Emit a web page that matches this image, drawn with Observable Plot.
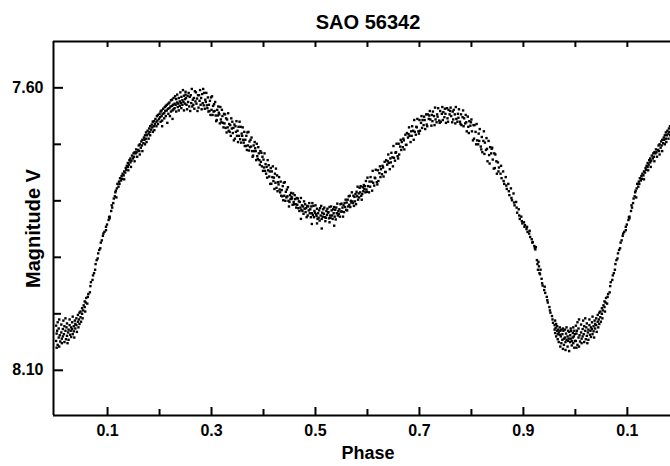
<!DOCTYPE html>
<html>
<head>
<meta charset="utf-8">
<script src="https://cdn.jsdelivr.net/npm/d3@7"></script>
<script src="https://cdn.jsdelivr.net/npm/@observablehq/plot@0.6"></script>
<style>
  html, body { margin: 0; padding: 0; background: #fff; }
  svg { display: block; }
</style>
</head>
<body>
<div id="chart"></div>
<script>
// ---- labels & axes ----
const title = "SAO 56342";
const xLabel = "Phase";
const yLabel = "Magnitude V";
const xDomain = [-0.004, 1.183];
const yDomain = [7.518, 8.180];
const xMajorTicks = [0.1, 0.3, 0.5, 0.7, 0.9, 1.1];
const xMinorTicks = [0.2, 0.4, 0.6, 0.8, 1.0];
const yMajorTicks = [7.6, 8.1];
const yMinorTicks = [7.7, 7.8, 7.9, 8.0];

const obsPrimaryMinStart = [
[0.001,8.021],[0.001,8.048],[0.002,8.060],[0.002,8.035],
[0.003,8.030],[0.004,8.055],[0.004,8.015],
[0.006,8.042],[0.006,8.026],[0.007,8.058],[0.007,8.010],
[0.008,8.038],[0.009,8.049],
[0.011,8.019],[0.011,8.033],[0.012,8.052],[0.012,8.044],
[0.014,8.027],[0.014,8.040],[0.015,8.012],
[0.016,8.036],[0.017,8.050],[0.017,8.022],
[0.019,8.030],[0.019,8.008],[0.020,8.045],
[0.021,8.024],[0.022,8.039],[0.022,8.017],[0.023,8.052],
[0.024,8.033],[0.025,8.028],[0.025,8.046],
[0.027,8.020],[0.027,8.010],[0.028,8.037],
[0.029,8.030],[0.030,8.041],[0.030,8.024],
[0.032,8.015],[0.032,8.027],[0.033,8.036],[0.033,8.005],
[0.035,8.022],[0.035,8.031],[0.036,8.042],
[0.037,8.012],[0.038,8.026],[0.038,8.018],
[0.040,8.020],[0.040,8.008],[0.041,8.032],
[0.043,8.014],[0.043,8.002],[0.044,8.024],
[0.045,8.010],[0.046,8.018],[0.046,7.998],
[0.048,8.006],[0.048,7.996],[0.049,8.014],
[0.051,8.000],[0.051,7.990],[0.052,8.008],
[0.053,7.994],[0.054,7.985],
[0.056,7.988],[0.056,7.978],[0.057,7.996],
[0.058,7.980],[0.059,7.972]
];

const obsRise = [
[0.061,7.982],[0.062,7.970],[0.063,7.965],
[0.066,7.962],[0.067,7.951],[0.068,7.944],
[0.071,7.940],[0.072,7.932],[0.074,7.928],
[0.076,7.922],[0.077,7.912],[0.079,7.905],
[0.081,7.902],[0.082,7.893],[0.084,7.887],
[0.086,7.884],[0.087,7.874],[0.089,7.870],
[0.091,7.862],[0.092,7.858],[0.094,7.855],
[0.097,7.846],[0.097,7.852],[0.099,7.842],
[0.102,7.834],[0.103,7.829],[0.104,7.828],[0.104,7.831],
[0.107,7.818],[0.108,7.808],[0.109,7.812],
[0.111,7.804],[0.112,7.796],
[0.114,7.792],[0.115,7.785],
[0.116,7.782],[0.117,7.794],
[0.118,7.778],[0.119,7.770],
[0.121,7.775],[0.122,7.766],
[0.123,7.770],[0.124,7.760],
[0.126,7.764],[0.127,7.756],
[0.128,7.761],[0.129,7.752],
[0.131,7.755],[0.132,7.762],[0.132,7.748],
[0.134,7.750],[0.135,7.742],
[0.136,7.745],[0.137,7.738],
[0.139,7.740],[0.139,7.733],[0.140,7.746],
[0.141,7.736],[0.142,7.728],
[0.144,7.732],[0.144,7.725],[0.145,7.740],
[0.146,7.729],[0.147,7.720],
[0.149,7.725],[0.150,7.716],
[0.151,7.722],[0.152,7.730],[0.152,7.714],
[0.154,7.716],[0.155,7.709],
[0.156,7.714],[0.157,7.722],
[0.159,7.710],[0.160,7.702]
];

const obsFirstMax = [
[0.161,7.712],[0.162,7.700],[0.162,7.718],
[0.164,7.706],[0.165,7.695],
[0.166,7.702],[0.167,7.712],[0.167,7.692],
[0.169,7.698],[0.170,7.688],
[0.171,7.692],[0.172,7.700],[0.172,7.684],
[0.174,7.690],[0.174,7.679],[0.175,7.696],
[0.176,7.684],[0.177,7.676],
[0.179,7.681],[0.179,7.690],[0.180,7.672],
[0.181,7.678],[0.182,7.668],[0.182,7.684],
[0.184,7.674],[0.185,7.665],
[0.186,7.670],[0.187,7.678],[0.187,7.660],
[0.189,7.668],[0.189,7.659],[0.190,7.675],
[0.191,7.664],[0.192,7.655],
[0.194,7.660],[0.194,7.668],[0.195,7.650],
[0.196,7.658],[0.197,7.648],[0.197,7.664],
[0.199,7.655],[0.200,7.646],
[0.201,7.652],[0.202,7.660],[0.202,7.642],
[0.204,7.650],[0.204,7.640],[0.205,7.658],[0.205,7.668],
[0.206,7.646],[0.207,7.637],
[0.209,7.645],[0.209,7.654],[0.210,7.634],
[0.211,7.641],[0.212,7.632],[0.212,7.650],
[0.214,7.640],[0.214,7.630],[0.215,7.662],
[0.216,7.637],[0.217,7.628],[0.217,7.646],
[0.219,7.636],[0.219,7.626],[0.220,7.650],
[0.221,7.633],[0.222,7.642],[0.222,7.622],
[0.224,7.632],[0.224,7.621],[0.225,7.640],[0.225,7.655],
[0.226,7.630],[0.227,7.618],[0.227,7.638],
[0.229,7.628],[0.229,7.636],[0.230,7.615],
[0.231,7.630],[0.232,7.620],[0.232,7.642],
[0.234,7.626],[0.234,7.612],[0.235,7.634],
[0.236,7.628],[0.237,7.618],[0.237,7.640],
[0.239,7.624],[0.239,7.632],[0.240,7.608],
[0.241,7.627],[0.242,7.616],[0.242,7.636],
[0.244,7.622],[0.244,7.630],[0.245,7.604],
[0.246,7.625],[0.247,7.614],[0.247,7.640],
[0.249,7.620],[0.249,7.628],[0.250,7.612],
[0.250,7.607],[0.251,7.618],[0.252,7.630],[0.253,7.638],[0.254,7.614],
[0.255,7.625],[0.256,7.609],[0.257,7.633],[0.258,7.616],[0.259,7.641],
[0.260,7.613],[0.261,7.627],[0.262,7.602],[0.263,7.633],[0.264,7.621],
[0.265,7.630],[0.266,7.618],[0.267,7.637],[0.268,7.606],[0.269,7.624],
[0.270,7.608],[0.271,7.628],[0.272,7.619],[0.273,7.641],[0.274,7.613],
[0.275,7.635],[0.276,7.613],[0.277,7.623],[0.278,7.604],[0.279,7.630],
[0.280,7.618],[0.281,7.638],[0.282,7.611],[0.283,7.627],[0.284,7.602],
[0.285,7.631],[0.286,7.609],[0.287,7.637],[0.288,7.621],[0.289,7.625],
[0.290,7.609],[0.291,7.631],[0.292,7.636],[0.293,7.617],[0.294,7.642],
[0.295,7.630],[0.296,7.641],[0.297,7.623],[0.298,7.648],[0.299,7.617]
];

const obsDescent = [
[0.300,7.639],[0.301,7.615],[0.302,7.648],[0.303,7.632],[0.304,7.642],
[0.305,7.629],[0.306,7.641],[0.307,7.625],[0.308,7.649],[0.309,7.659],
[0.310,7.657],[0.311,7.639],[0.312,7.649],[0.313,7.633],[0.314,7.644],
[0.315,7.647],[0.316,7.663],[0.317,7.634],[0.318,7.656],[0.319,7.661],
[0.320,7.639],[0.321,7.650],[0.322,7.662],[0.323,7.670],[0.324,7.646],
[0.325,7.663],[0.326,7.647],[0.327,7.671],[0.328,7.654],[0.329,7.679],
[0.330,7.656],[0.331,7.670],[0.332,7.645],[0.333,7.676],[0.334,7.664],
[0.335,7.678],[0.336,7.666],[0.337,7.685],[0.338,7.654],[0.339,7.672],
[0.340,7.660],[0.341,7.680],[0.342,7.671],[0.343,7.693],[0.344,7.665],
[0.345,7.690],[0.346,7.668],[0.347,7.678],[0.348,7.659],[0.349,7.685],
[0.350,7.676],[0.351,7.696],[0.352,7.669],[0.353,7.685],[0.354,7.660],
[0.355,7.691],[0.356,7.669],[0.357,7.697],[0.358,7.681],[0.359,7.685],
[0.360,7.670],[0.361,7.692],[0.362,7.697],[0.363,7.678],[0.364,7.703],
[0.365,7.692],[0.366,7.703],[0.367,7.685],[0.368,7.710],[0.369,7.679],
[0.370,7.702],[0.371,7.678],[0.372,7.711],[0.373,7.695],[0.374,7.705],
[0.375,7.692],[0.376,7.704],[0.377,7.688],[0.378,7.712],[0.379,7.722],
[0.380,7.720],[0.381,7.702],[0.382,7.712],[0.383,7.696],[0.384,7.707],
[0.385,7.712],[0.386,7.728],[0.387,7.699],[0.388,7.721],[0.389,7.726],
[0.390,7.705],[0.391,7.716],[0.392,7.728],[0.393,7.736],[0.394,7.712],
[0.395,7.731],[0.396,7.715],[0.397,7.739],[0.398,7.722],[0.399,7.747],
[0.400,7.727],[0.401,7.741],[0.402,7.716],[0.403,7.747],[0.404,7.735],
[0.405,7.752],[0.406,7.740],[0.407,7.759],[0.408,7.728],[0.409,7.746],
[0.410,7.737],[0.411,7.757],[0.412,7.748],[0.413,7.770],[0.414,7.742],
[0.415,7.770],[0.416,7.748],[0.417,7.758],[0.418,7.739],[0.419,7.765],
[0.420,7.759],[0.421,7.779],[0.422,7.752],[0.423,7.768],[0.424,7.743],
[0.425,7.777],[0.426,7.755],[0.427,7.783],[0.428,7.767],[0.429,7.771],
[0.430,7.758],[0.431,7.780],[0.432,7.785],[0.433,7.766],[0.434,7.791],
[0.435,7.781],[0.436,7.792],[0.437,7.774],[0.438,7.799],[0.439,7.768],
[0.440,7.791],[0.441,7.767],[0.442,7.800],[0.443,7.784],[0.444,7.794],
[0.445,7.780],[0.446,7.792],[0.447,7.776],[0.448,7.800],[0.449,7.810]
];

const obsSecondaryMin = [
[0.450,7.802],[0.451,7.790],[0.452,7.797],[0.453,7.786],[0.454,7.793],
[0.455,7.796],[0.456,7.807],[0.457,7.787],[0.458,7.802],[0.459,7.806],
[0.460,7.790],[0.461,7.797],[0.462,7.806],[0.463,7.812],[0.464,7.795],
[0.465,7.807],[0.466,7.796],[0.467,7.813],[0.468,7.801],[0.469,7.818],
[0.470,7.802],[0.471,7.812],[0.472,7.795],[0.473,7.816],[0.474,7.808],
[0.475,7.818],[0.476,7.810],[0.477,7.823],[0.478,7.801],[0.479,7.814],
[0.480,7.806],[0.481,7.820],[0.482,7.813],[0.483,7.829],[0.484,7.809],
[0.485,7.826],[0.486,7.810],[0.487,7.817],[0.488,7.804],[0.489,7.822],
[0.490,7.815],[0.491,7.829],[0.492,7.810],[0.493,7.822],[0.494,7.804],
[0.495,7.825],[0.496,7.809],[0.497,7.829],[0.498,7.818],[0.499,7.821],
[0.500,7.808],[0.501,7.824],[0.502,7.827],[0.503,7.814],[0.504,7.832],
[0.505,7.822],[0.506,7.830],[0.507,7.817],[0.508,7.835],[0.509,7.813],
[0.510,7.826],[0.511,7.809],[0.512,7.832],[0.513,7.821],[0.514,7.828],
[0.515,7.815],[0.516,7.823],[0.517,7.812],[0.518,7.829],[0.519,7.836],
[0.520,7.830],[0.521,7.818],[0.522,7.825],[0.523,7.814],[0.524,7.821],
[0.525,7.820],[0.526,7.831],[0.527,7.811],[0.528,7.826],[0.529,7.830],
[0.530,7.810],[0.531,7.817],[0.532,7.826],[0.533,7.832],[0.534,7.815],
[0.535,7.822],[0.536,7.811],[0.537,7.828],[0.538,7.816],[0.539,7.833],
[0.540,7.812],[0.541,7.822],[0.542,7.805],[0.543,7.826],[0.544,7.818],
[0.545,7.823],[0.546,7.815],[0.547,7.828],[0.548,7.806],[0.549,7.819],
[0.550,7.805],[0.551,7.819],[0.552,7.812],[0.553,7.828],[0.554,7.808],
[0.555,7.820],[0.556,7.804],[0.557,7.811],[0.558,7.798],[0.559,7.816],
[0.560,7.803],[0.561,7.817],[0.562,7.798],[0.563,7.810],[0.564,7.792],
[0.565,7.807],[0.566,7.791],[0.567,7.811],[0.568,7.800],[0.569,7.803],
[0.570,7.785],[0.571,7.801],[0.572,7.804],[0.573,7.791],[0.574,7.809],
[0.575,7.793],[0.576,7.801],[0.577,7.788],[0.578,7.806],[0.579,7.784],
[0.580,7.792],[0.581,7.775],[0.582,7.798],[0.583,7.787],[0.584,7.794],
[0.585,7.777],[0.586,7.785],[0.587,7.774],[0.588,7.791],[0.589,7.798],
[0.590,7.788],[0.591,7.776],[0.592,7.783],[0.593,7.772],[0.594,7.779],
[0.595,7.774],[0.596,7.785],[0.597,7.765],[0.598,7.780],[0.599,7.784],
[0.472,7.832],[0.493,7.841],[0.512,7.849],[0.536,7.844],[0.503,7.840],[0.527,7.838]
];

const obsSecondRise = [
[0.600,7.759],[0.601,7.774],[0.603,7.785],[0.604,7.766],
[0.605,7.775],[0.606,7.758],[0.608,7.766],[0.609,7.782],
[0.610,7.747],[0.611,7.768],[0.613,7.773],[0.614,7.759],
[0.615,7.760],[0.616,7.745],[0.618,7.767],[0.619,7.771],
[0.620,7.746],[0.621,7.765],[0.623,7.751],[0.624,7.739],
[0.625,7.758],[0.626,7.744],[0.628,7.753],[0.629,7.738],
[0.630,7.741],[0.631,7.757],[0.633,7.731],[0.634,7.749],
[0.635,7.749],[0.636,7.728],[0.638,7.736],[0.639,7.730],
[0.640,7.718],[0.641,7.733],[0.643,7.744],[0.644,7.725],
[0.645,7.732],[0.646,7.715],[0.648,7.723],[0.649,7.739],
[0.650,7.703],[0.651,7.724],[0.653,7.729],[0.654,7.715],
[0.655,7.714],[0.656,7.699],[0.658,7.721],[0.659,7.725],
[0.660,7.699],[0.661,7.718],[0.663,7.704],[0.664,7.692],
[0.665,7.710],[0.666,7.696],[0.668,7.705],[0.669,7.690],
[0.670,7.693],[0.671,7.709],[0.673,7.683],[0.674,7.701],
[0.675,7.701],[0.676,7.680],[0.678,7.688],[0.679,7.682],
[0.680,7.670],[0.681,7.685],[0.683,7.696],[0.684,7.677],
[0.685,7.685],[0.686,7.668],[0.688,7.676],[0.689,7.692],
[0.690,7.657],[0.691,7.678],[0.693,7.683],[0.694,7.669],
[0.695,7.670],[0.696,7.655],[0.698,7.677],[0.699,7.681],
[0.700,7.657],[0.701,7.676],[0.703,7.662],[0.704,7.650],
[0.705,7.671],[0.706,7.657],[0.708,7.666],[0.709,7.651],
[0.710,7.657],[0.711,7.673],[0.713,7.647],[0.714,7.665],
[0.715,7.668],[0.716,7.647],[0.718,7.655],[0.719,7.649],
[0.720,7.641],[0.721,7.656],[0.723,7.667],[0.724,7.648],
[0.725,7.659],[0.726,7.642],[0.728,7.650],[0.729,7.666],
[0.730,7.635],[0.731,7.656],[0.733,7.661],[0.734,7.647],
[0.735,7.651],[0.736,7.636],[0.738,7.658],[0.739,7.662],
[0.740,7.641],[0.741,7.660],[0.743,7.646],[0.744,7.634],
[0.745,7.657],[0.746,7.643],[0.748,7.652],[0.749,7.637],
[0.750,7.646],[0.751,7.662],[0.753,7.636],[0.754,7.654],
[0.755,7.660],[0.756,7.639],[0.758,7.647],[0.759,7.641],
[0.760,7.635],[0.761,7.650],[0.763,7.661],[0.764,7.642],
[0.765,7.656],[0.766,7.639],[0.768,7.647],[0.769,7.663],
[0.770,7.634],[0.771,7.655],[0.773,7.660],[0.774,7.646],
[0.775,7.653],[0.776,7.638],[0.778,7.660],[0.779,7.664],
[0.780,7.647],[0.781,7.666],[0.783,7.652],[0.784,7.640],
[0.785,7.668],[0.786,7.654],[0.788,7.663],[0.789,7.648],
[0.790,7.661],[0.791,7.677],[0.793,7.651],[0.794,7.669],
[0.795,7.680],[0.796,7.659],[0.798,7.667],[0.799,7.661],
[0.800,7.656],[0.801,7.677],[0.803,7.693],[0.804,7.666],
[0.805,7.690],[0.806,7.666],[0.808,7.678],[0.809,7.700],
[0.810,7.664],[0.811,7.693],[0.813,7.700],[0.814,7.681],
[0.815,7.694],[0.816,7.673],[0.818,7.704],[0.819,7.709],
[0.820,7.687],[0.821,7.714],[0.823,7.694],[0.824,7.677],
[0.825,7.717],[0.826,7.697],[0.828,7.710],[0.829,7.689],
[0.830,7.708],[0.831,7.730],[0.833,7.694],[0.834,7.719],
[0.835,7.734],[0.836,7.705],[0.838,7.716],[0.839,7.708],
[0.840,7.706],[0.841,7.727],[0.843,7.743],[0.844,7.716],
[0.845,7.742],[0.846,7.718],[0.848,7.730],[0.849,7.752]
];

const obsDecline = [
[0.851,7.732],[0.852,7.748],[0.853,7.741],
[0.856,7.752],[0.857,7.738],[0.858,7.760],
[0.861,7.748],[0.862,7.765],[0.863,7.770],
[0.866,7.758],[0.867,7.773],[0.868,7.779],
[0.871,7.770],[0.872,7.783],[0.873,7.790],
[0.876,7.778],[0.877,7.795],[0.878,7.799],
[0.881,7.787],[0.882,7.803],[0.883,7.808],
[0.886,7.802],[0.887,7.812],[0.888,7.821],
[0.891,7.815],[0.892,7.826],[0.893,7.832],
[0.896,7.828],[0.897,7.836],[0.898,7.840],
[0.901,7.838],[0.902,7.846],[0.903,7.843],
[0.906,7.850],[0.907,7.846],[0.908,7.855],
[0.911,7.858],[0.912,7.853],[0.913,7.864],
[0.916,7.868],[0.917,7.874],[0.918,7.873],
[0.921,7.880],[0.922,7.884],
[0.923,7.886],[0.924,7.882],
[0.926,7.905],[0.927,7.912],
[0.928,7.922],[0.929,7.908],
[0.930,7.916],[0.931,7.928],
[0.932,7.930],[0.933,7.922],
[0.935,7.938],[0.936,7.946],[0.937,7.950],
[0.940,7.958],[0.941,7.952],[0.942,7.963],
[0.945,7.970],[0.946,7.976],[0.947,7.980],
[0.950,7.988],[0.951,7.994],[0.952,7.998],
[0.955,8.004],[0.956,8.010],[0.957,8.016]
];

const obsPrimaryMinEnd = [
[0.960,8.020],[0.960,8.028],[0.961,8.012],[0.961,8.034],
[0.962,8.025],[0.963,8.018],[0.963,8.040],
[0.965,8.030],[0.965,8.022],[0.966,8.045],[0.966,8.036],
[0.967,8.028],[0.968,8.050],[0.968,8.033],
[0.970,8.037],[0.970,8.024],[0.971,8.058],[0.971,8.030],
[0.972,8.040],[0.973,8.028],[0.973,8.052],
[0.975,8.036],[0.975,8.046],[0.976,8.062],[0.976,8.026],
[0.977,8.030],[0.978,8.044],[0.978,8.055],
[0.980,8.042],[0.980,8.028],[0.981,8.050],[0.981,8.064],
[0.982,8.035],[0.983,8.046],[0.983,8.024],
[0.985,8.040],[0.985,8.058],[0.986,8.030],[0.986,8.048],
[0.987,8.044],[0.988,8.032],[0.988,8.066],
[0.990,8.038],[0.990,8.050],[0.991,8.026],[0.991,8.044],
[0.992,8.030],[0.993,8.048],[0.993,8.056],
[0.995,8.042],[0.995,8.034],[0.996,8.052],[0.996,8.024],
[0.997,8.040],[0.998,8.060],[0.998,8.030],
[0.999,8.036],[0.999,8.048]
];

// ---- table for the library: one cycle, plus the start of the next cycle (phase + 1) ----
const oneCycle = [
  ...obsPrimaryMinStart, ...obsRise, ...obsFirstMax, ...obsDescent,
  ...obsSecondaryMin, ...obsSecondRise, ...obsDecline, ...obsPrimaryMinEnd
].map(([phase, mag]) => ({phase, mag}));
const repeated = oneCycle
  .filter(d => d.phase + 1 <= xDomain[1])
  .map(d => ({phase: d.phase + 1, mag: d.mag}));
const points = [...oneCycle, ...repeated];

const W = 670, H = 466;
const mL = 53, mR = 0, mT = 41, mB = 51;
const plotH = H - mT - mB, plotW = W - mL - mR;
const fmtPhase = d => (Math.round((d % 1) * 10) / 10).toFixed(1);

const chart = Plot.plot({
  width: W,
  height: H,
  marginLeft: mL,
  marginRight: mR,
  marginTop: mT,
  marginBottom: mB,
  style: {fontFamily: "'Liberation Sans', Arial, Helvetica, sans-serif", fontSize: "16px", color: "black", background: "white"},
  x: {domain: xDomain, axis: null},
  y: {domain: yDomain, reverse: true, axis: null},
  marks: [
    Plot.dot(points, {x: "phase", y: "mag", symbol: "square", r: 1.35, fill: "black", stroke: "none", clip: true}),
    // frame lines (left, top, bottom)
    Plot.ruleX([xDomain[0]], {stroke: "black", strokeWidth: 2}),
    Plot.ruleY(yDomain, {stroke: "black", strokeWidth: 2}),
    // inward ticks
    Plot.tickX(xMajorTicks, {x: d => d, stroke: "black", strokeWidth: 2, insetTop: plotH - 8}),
    Plot.tickX(xMinorTicks, {x: d => d, stroke: "black", strokeWidth: 2, insetTop: plotH - 6}),
    Plot.tickX([...xMajorTicks, ...xMinorTicks], {x: d => d, stroke: "black", strokeWidth: 2, insetBottom: plotH - 6}),
    Plot.tickY(yMajorTicks, {y: d => d, stroke: "black", strokeWidth: 2, insetRight: plotW - 10}),
    Plot.tickY(yMinorTicks, {y: d => d, stroke: "black", strokeWidth: 2, insetRight: plotW - 8}),
    // tick labels
    Plot.text(xMajorTicks, {x: d => d, frameAnchor: "bottom", lineAnchor: "middle", textAnchor: "middle", dy: 15, text: fmtPhase, fontSize: 16, fontWeight: "bold"}),
    Plot.text(yMajorTicks, {y: d => d, frameAnchor: "left", lineAnchor: "middle", textAnchor: "end", dx: -10, text: d => d.toFixed(2), fontSize: 16, fontWeight: "bold"}),
    // axis labels & title
    Plot.text([xLabel], {frameAnchor: "bottom", lineAnchor: "middle", textAnchor: "middle", dx: 6, dy: 38, fontSize: 18, fontWeight: "bold"}),
    Plot.text([yLabel], {frameAnchor: "left", lineAnchor: "middle", textAnchor: "middle", dx: -20, rotate: -90, fontSize: 20, fontWeight: "bold"}),
    Plot.text([title], {frameAnchor: "top", lineAnchor: "middle", textAnchor: "middle", dx: 6, dy: -18.5, fontSize: 20, fontWeight: "bold"})
  ]
});
document.getElementById("chart").appendChild(chart);
</script>
</body>
</html>
